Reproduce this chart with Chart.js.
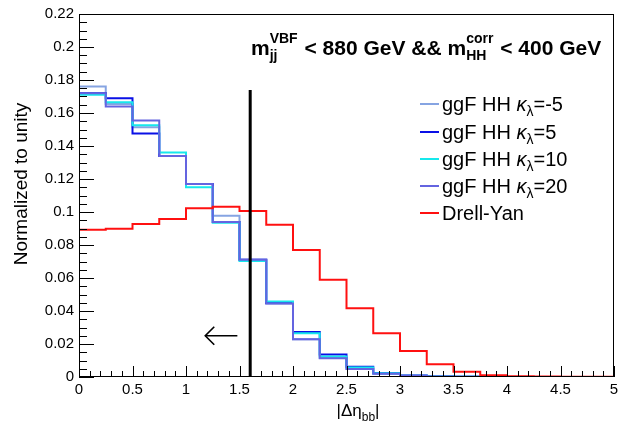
<!DOCTYPE html>
<html><head><meta charset="utf-8">
<script src="https://cdn.jsdelivr.net/npm/chart.js@4.4.1/dist/chart.umd.min.js"></script>
<style>html,body{margin:0;padding:0;background:#fff;}#wrap{width:634px;height:428px;position:relative;}</style>
</head><body><div id="wrap"><canvas id="c" width="634" height="428"></canvas></div>
<script>
// ---- data ----
const binEdges = [0,0.25,0.5,0.75,1,1.25,1.5,1.75,2,2.25,2.5,2.75,3,3.25,3.5,3.75,4,4.25,4.5,4.75,5];
const kappaM5  = [0.176,0.1655,0.1514,0.134,0.117,0.0977,0.071,0.0445,0.0229,0.0115,0.0050,0.0020,0.0008,0.0003,0.0001,0,0,0,0,0];
const kappa5   = [0.172,0.169,0.1476,0.134,0.117,0.094,0.071,0.0448,0.0273,0.0137,0.0062,0.0024,0.0009,0.0003,0.0001,0,0,0,0,0];
const kappa10  = [0.171,0.1665,0.1526,0.136,0.115,0.0935,0.0703,0.0457,0.0265,0.0125,0.0058,0.0022,0.0008,0.0003,0.0001,0,0,0,0,0];
const kappa20  = [0.172,0.164,0.1554,0.134,0.117,0.094,0.071,0.0445,0.0229,0.0113,0.0048,0.0020,0.0008,0.0003,0.0001,0,0,0,0,0];
const drellYan = [0.0893,0.0899,0.0927,0.0957,0.1022,0.1032,0.1006,0.0923,0.0770,0.0590,0.0416,0.0265,0.0157,0.0078,0.0032,0.0010,0.0004,0.0003,0.0002,0.0001];
const seriesNames = ['ggF HH \u03ba\u03bb=-5','ggF HH \u03ba\u03bb=5','ggF HH \u03ba\u03bb=10','ggF HH \u03ba\u03bb=20','Drell-Yan'];
const kappaLabels = ['=-5','=5','=10','=20'];
const xTickValues = [0,0.5,1,1.5,2,2.5,3,3.5,4,4.5,5];
const xTickLabels = ['0','0.5','1','1.5','2','2.5','3','3.5','4','4.5','5'];
const yTickValues = [0,0.02,0.04,0.06,0.08,0.1,0.12,0.14,0.16,0.18,0.2,0.22];
const yTickLabels = ['0','0.02','0.04','0.06','0.08','0.1','0.12','0.14','0.16','0.18','0.2','0.22'];
const cutX = [1.6, 1.6];
const cutY = [0, 0.174];
const arrowX = [1.48, 1.18];
const arrowY = [0.025, 0.025];

// ---- styles ----
const colors = ['#86a4e2','#0a10e6','#16e8ec','#6464e0','#ff1010'];
const FONT = '"Liberation Sans", Arial, sans-serif';

function histPoints(vals){
  const pts = vals.map((v,i)=>({x:binEdges[i], y:v}));
  pts.push({x:binEdges[binEdges.length-1], y:vals[vals.length-1]});
  return pts;
}
const seriesVals = [kappaM5,kappa5,kappa10,kappa20,drellYan];
const orders = [5,4,3,2,1];
const datasets = seriesVals.map((v,i)=>({
  label: seriesNames[i], data: histPoints(v), borderColor: colors[i], borderWidth: 2,
  stepped: true, pointRadius: 0, fill: false, order: orders[i], tension: 0
}));
datasets.push({label:'cut', data: cutX.map((x,i)=>({x, y:cutY[i]})), borderColor:'#000', borderWidth:3, pointRadius:0, order:0});
datasets.push({label:'arrow', data: arrowX.map((x,i)=>({x, y:arrowY[i]})), borderColor:'#000', borderWidth:1.6, pointRadius:0, order:0});

function rich(ctx, x, y, segs){
  for (const s of segs){
    if (s.stack){
      ctx.font = s.font;
      const w1 = ctx.measureText(s.sup).width, w2 = ctx.measureText(s.sub).width;
      ctx.fillText(s.sup, x, y + s.supDy);
      ctx.fillText(s.sub, x, y + s.subDy);
      x += Math.max(w1,w2) + (s.gap||0);
    } else {
      ctx.font = s.font;
      ctx.fillText(s.t, x, y + (s.dy||0));
      x += ctx.measureText(s.t).width;
    }
  }
  return x;
}
function richWidth(ctx, segs){
  let w = 0;
  for (const s of segs){
    ctx.font = s.font;
    if (s.stack) w += Math.max(ctx.measureText(s.sup).width, ctx.measureText(s.sub).width) + (s.gap||0);
    else w += ctx.measureText(s.t).width;
  }
  return w;
}

const decor = {
  id:'decor',
  afterDatasetsDraw(chart){
    const {ctx, chartArea:a, scales:{x, y}} = chart;
    ctx.save();
    ctx.strokeStyle = '#000'; ctx.lineWidth = 1;
    ctx.strokeRect(a.left+0.5, a.top+0.5, a.right-a.left-1, a.bottom-a.top-1);
    ctx.beginPath();
    ctx.moveTo(a.left, a.bottom-0.5); ctx.lineTo(a.right, a.bottom-0.5);
    ctx.moveTo(a.left+0.5, a.top); ctx.lineTo(a.left+0.5, a.bottom);
    ctx.stroke();
    ctx.beginPath();
    for (let k=0;k<=44;k++){
      const v = k*0.005; const py = Math.round(y.getPixelForValue(v))+0.5;
      const len = (k%4===0)?15:8;
      ctx.moveTo(a.left, py); ctx.lineTo(a.left+len, py);
    }
    for (let k=0;k<=50;k++){
      const v = k*0.1; const px = Math.round(x.getPixelForValue(v))+0.5;
      const len = (k%5===0)?11:6;
      ctx.moveTo(px, a.bottom); ctx.lineTo(px, a.bottom-len);
    }
    ctx.stroke();
    const tx = x.getPixelForValue(arrowX[1]), ty = y.getPixelForValue(arrowY[1]);
    ctx.lineWidth = 1.6;
    ctx.beginPath();
    ctx.moveTo(tx+9, ty-9); ctx.lineTo(tx, ty); ctx.lineTo(tx+9, ty+9);
    ctx.stroke();
    ctx.restore();
  },
  afterDraw(chart){
    const {ctx, chartArea:a} = chart;
    ctx.save();
    ctx.fillStyle = '#000'; ctx.textBaseline = 'alphabetic'; ctx.textAlign = 'left';
    // title
    const B = 'bold 21px '+FONT, Bs = 'bold 14px '+FONT;
    rich(ctx, 251, 55, [
      {t:'m', font:B},
      {stack:true, sup:'VBF', sub:'jj', font:Bs, supDy:-12, subDy:5, gap:1},
      {t:' < 880 GeV && m', font:B},
      {stack:true, sup:'corr', sub:'HH', font:Bs, supDy:-12, subDy:5, gap:1},
      {t:' < 400 GeV', font:B}
    ]);
    // legend
    const R = '20px '+FONT, I = 'italic 20px '+FONT, S = '14px '+FONT;
    const ly = [104,132,159,186,213];
    for (let i=0;i<5;i++){
      ctx.strokeStyle = colors[i]; ctx.lineWidth = 2;
      ctx.beginPath(); ctx.moveTo(420, ly[i]); ctx.lineTo(439, ly[i]); ctx.stroke();
      const base = ly[i]+7;
      if (i<4){
        rich(ctx, 442, base, [
          {t:'ggF HH ', font:R}, {t:'\u03ba', font:I}, {t:'\u03bb', font:S, dy:5}, {t:kappaLabels[i], font:R}
        ]);
      } else {
        ctx.font = R; ctx.fillText('Drell-Yan', 442, base);
      }
    }
    // y title
    ctx.save();
    ctx.translate(27, 184);
    ctx.rotate(-Math.PI/2);
    ctx.font = '19px '+FONT; ctx.textAlign = 'center';
    ctx.fillText('Normalized to unity', 0, 0);
    ctx.restore();
    // x title
    const parts = [{t:'|\u0394\u03b7', font:'17px '+FONT},{t:'bb', font:'12px '+FONT, dy:5},{t:'|', font:'17px '+FONT}];
    const w = richWidth(ctx, parts);
    rich(ctx, 358 - w/2, 416, parts);
    ctx.restore();
  }
};

new Chart(document.getElementById('c'), {
  type:'line',
  data:{datasets},
  options:{
    responsive:false, animation:false, devicePixelRatio:1,
    layout:{padding:{left:0, right:20, top:12, bottom:0}},
    plugins:{legend:{display:false}, tooltip:{enabled:false}},
    scales:{
      x:{type:'linear', min:0, max:5,
        grid:{display:false, drawTicks:false}, border:{display:false},
        afterBuildTicks(s){ s.ticks = xTickValues.map(v=>({value:v})); },
        afterFit(s){ s.height = 51; },
        ticks:{autoSkip:false, maxRotation:0, padding:4, color:'#000', font:{family:FONT, size:15},
          callback:(v)=>{const i=xTickValues.indexOf(v); return i>=0?xTickLabels[i]:'';}}
      },
      y:{type:'linear', min:0, max:0.22,
        grid:{display:false, drawTicks:false}, border:{display:false},
        afterBuildTicks(s){ s.ticks = yTickValues.map(v=>({value:v})); },
        afterFit(s){ s.width = 79; },
        ticks:{autoSkip:false, padding:5, color:'#000', font:{family:FONT, size:15},
          callback:(v)=>{const i=yTickValues.findIndex(t=>Math.abs(t-v)<1e-9); return i>=0?yTickLabels[i]:'';}}
      }
    }
  },
  plugins:[decor]
});
</script></body></html>
